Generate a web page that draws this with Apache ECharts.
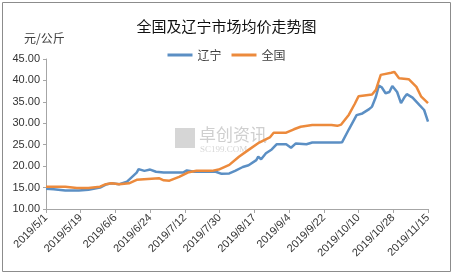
<!DOCTYPE html>
<html><head><meta charset="utf-8">
<script src="https://cdn.jsdelivr.net/npm/echarts@6/dist/echarts.min.js"></script>
<style>html,body{margin:0;padding:0;background:#fff}#c{width:453px;height:276px}</style>
</head><body><div id="c"></div>
<script>
// Days since 2019/5/1 and prices (元/公斤)
const liaoningDays   = [0,4,10,17,22,28,31,34,38,42,47,48,51,52,54,55,57,61,71,73,74,77,88,91,95,98,102,105,109,110,111.5,114,117,119.5,124.5,127,129.5,135,138,152,153.5,157,161,164,167.5,169,171,172.5,174,176,178,179.5,182,184,186,187,190,193.5,196,198];
const liaoningValues = [14.7,14.6,14.3,14.3,14.5,15.0,15.7,16.0,15.8,16.4,18.5,19.3,18.9,19.2,19.2,19.5,18.7,18.5,18.5,19.0,19.3,18.7,18.7,18.2,18.3,18.9,19.8,20.2,21.4,22.2,21.6,23.0,23.9,25.1,25.1,24.3,25.3,25.1,25.5,25.5,25.6,28.6,31.9,32.3,33.3,33.9,36.2,38.8,38.4,37.0,37.3,38.7,37.3,34.7,36.2,36.8,36.0,34.3,33.1,30.4];
const nationalDays   = [0,10,16,22,28,31,34,38,43,47,48,58.5,61,64,69,74,78,86,89.5,95,100,105,110.5,116,118,124.5,128.5,132,138,148,151,153,157,160,162,169,171,173.5,179,180.5,183,188,192,194.5,198];
const nationalValues = [15.2,15.2,14.9,14.9,15.2,15.8,16.0,15.8,16.0,16.8,17.2,17.2,16.7,16.6,17.5,18.6,18.9,18.9,19.2,20.3,22.2,23.8,25.5,26.7,27.8,27.8,28.6,29.2,29.6,29.6,29.4,29.7,32.0,34.5,36.3,36.7,37.8,41.3,41.8,42.0,40.5,40.3,38.5,36.2,34.7];
const startDate = new Date(2019, 4, 1);
const seriesNames = ['辽宁', '全国'];

function dayLabel(v) {
  const d = new Date(startDate.getTime() + Math.round(v) * 86400000);
  return d.getFullYear() + '/' + (d.getMonth() + 1) + '/' + d.getDate();
}
function pairs(xs, ys) { return xs.map((x, i) => [x, ys[i]]); }

const chart = echarts.init(document.getElementById('c'));
chart.setOption({
  animation: false,
  textStyle: { fontFamily: 'Noto Sans CJK SC, sans-serif' },
  title: {
    text: '全国及辽宁市场均价走势图', left: 'center', top: 14,
    textStyle: { fontSize: 15, fontWeight: 'normal', color: '#111', fontFamily: 'Noto Sans CJK SC' }
  },
  legend: {
    top: 44, left: 'center', itemWidth: 25, itemHeight: 3, itemGap: 10,
    icon: 'rect',
    textStyle: { fontSize: 12, color: '#404040', fontFamily: 'Noto Sans CJK SC' },
    data: seriesNames
  },
  graphic: [
    { type: 'rect', shape: { x: 2.5, y: 2.5, width: 448, height: 269 }, style: { fill: 'none', stroke: '#8c8c8c', lineWidth: 1 }, z: -1 },
    { type: 'text', left: 24, top: 32, style: { text: '元/公斤', fontSize: 12, fill: '#404040', fontFamily: 'Noto Sans CJK SC' } },
    { type: 'rect', shape: { x: 175, y: 128, width: 20, height: 20 }, style: { fill: '#d6d6d6' }, z: -1 },
    { type: 'text', left: 199, top: 126, style: { text: '卓创资讯', fontSize: 17, fill: '#cfcfcf', fontFamily: 'Noto Sans CJK SC' }, z: -1 },
    { type: 'text', left: 200, top: 145, style: { text: 'SC199.COM', fontSize: 9, fill: '#d6d6d6', fontFamily: 'Liberation Serif' }, z: -1 }
  ],
  grid: { left: 46, right: 25, top: 59, bottom: 67 },
  xAxis: {
    type: 'value', min: 0, max: 198, interval: 18,
    axisLine: { show: true, lineStyle: { color: '#a6a6a6' } },
    axisTick: { show: true, length: 4, lineStyle: { color: '#a6a6a6' } },
    splitLine: { show: false },
    axisLabel: { rotate: 45, fontSize: 11, color: '#333', margin: 7, formatter: dayLabel, fontFamily: 'Liberation Sans' }
  },
  yAxis: {
    type: 'value', min: 10, max: 45, interval: 5,
    axisLine: { show: true, lineStyle: { color: '#a6a6a6' } },
    axisTick: { show: true, length: 3, lineStyle: { color: '#a6a6a6' } },
    splitLine: { show: false },
    axisLabel: { fontSize: 11, color: '#333', margin: 6, formatter: v => v.toFixed(2), fontFamily: 'Liberation Sans' }
  },
  series: [
    { name: seriesNames[0], type: 'line', data: pairs(liaoningDays, liaoningValues), showSymbol: false, symbol: 'none',
      lineStyle: { color: '#5b8fc4', width: 2.5 }, itemStyle: { color: '#5b8fc4' } },
    { name: seriesNames[1], type: 'line', data: pairs(nationalDays, nationalValues), showSymbol: false, symbol: 'none',
      lineStyle: { color: '#ec8a3c', width: 2.5 }, itemStyle: { color: '#ec8a3c' } }
  ]
});
</script></body></html>
